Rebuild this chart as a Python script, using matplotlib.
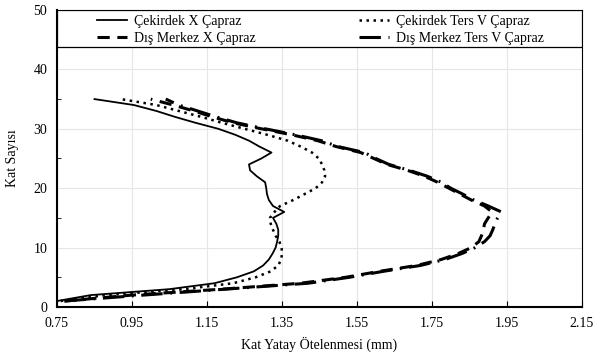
import numpy as np
import matplotlib
matplotlib.use("Agg")
import matplotlib.pyplot as plt
from matplotlib.patches import Rectangle

plt.rcParams["font.family"] = ["Liberation Serif", "DejaVu Serif"]

# kat numaraları
kat = list(range(1, 36))

# Çekirdek X Çapraz
cek_x = [0.75, 0.84, 1.05, 1.17, 1.23, 1.275, 1.30, 1.315, 1.325, 1.333,
         1.337, 1.34, 1.34, 1.335, 1.326, 1.356, 1.326, 1.315, 1.31, 1.308,
         1.305, 1.283, 1.265, 1.262, 1.295, 1.322, 1.29, 1.262, 1.225, 1.18,
         1.12, 1.065, 1.015, 0.955, 0.85]

# Çekirdek Ters V Çapraz
cek_v = [0.76, 0.88, 1.09, 1.22, 1.28, 1.32, 1.34, 1.348, 1.35, 1.349,
         1.343, 1.333, 1.326, 1.32, 1.318, 1.33, 1.345, 1.38, 1.41, 1.44,
         1.457, 1.465, 1.463, 1.457, 1.448, 1.43, 1.40, 1.365, 1.31, 1.25,
         1.19, 1.135, 1.075, 1.015, 0.92]

# Dış Merkez X Çapraz
dis_x = [0.77, 0.95, 1.19, 1.40, 1.52, 1.61, 1.71, 1.775, 1.82, 1.855,
         1.875, 1.882, 1.887, 1.89, 1.90, 1.91, 1.89, 1.855, 1.825, 1.795,
         1.765, 1.73, 1.685, 1.63, 1.595, 1.56, 1.495, 1.445, 1.375, 1.295,
         1.22, 1.165, 1.115, 1.06, 1.00]

# Dış Merkez Ters V Çapraz
dis_v = [0.77, 0.98, 1.20, 1.42, 1.53, 1.62, 1.72, 1.785, 1.83, 1.865,
         1.89, 1.905, 1.912, 1.918, 1.925, 1.935, 1.90, 1.862, 1.832, 1.80,
         1.775, 1.738, 1.69, 1.635, 1.60, 1.57, 1.50, 1.455, 1.385, 1.305,
         1.23, 1.175, 1.125, 1.075, 1.04]

fig = plt.figure(figsize=(5.96, 3.62), dpi=100)
ax = fig.add_axes([0.0956, 0.152, 0.8809, 0.8204])

ax.plot(cek_x, kat, color="black", lw=1.3, label="Çekirdek X Çapraz")
ax.plot(dis_x, kat, color="black", lw=2.2, linestyle=(0, (4, 2.5)),
        label="Dış Merkez X Çapraz")
ax.plot(cek_v, kat, color="black", lw=1.8, linestyle=(0, (1, 1.8)),
        label="Çekirdek Ters V Çapraz")
ax.plot(dis_v, kat, color="black", lw=2.2, linestyle=(0, (7, 2.5, 0.6, 2.5)),
        label="Dış Merkez Ters V Çapraz")

ax.set_xlim(0.75, 2.15)
ax.set_ylim(0, 50)
ax.set_xticks(np.arange(0.75, 2.151, 0.2))
ax.set_xticklabels(["0.75", "0.95", "1.15", "1.35", "1.55", "1.75", "1.95", "2.15"])
ax.set_yticks(range(0, 51, 10))
ax.set_yticks(range(5, 50, 10), minor=True)
ax.tick_params(axis="both", which="both", direction="in", labelsize=10)
ax.tick_params(axis="x", length=4, pad=7)
ax.tick_params(axis="y", which="major", length=0, pad=7)
ax.tick_params(axis="y", which="minor", length=3)
ax.grid(True, color="#e6e6e6", lw=0.8)
ax.set_axisbelow(True)

for s in ["left", "bottom"]:
    ax.spines[s].set_linewidth(1.5)
for s in ["right", "top"]:
    ax.spines[s].set_linewidth(0.8)

ax.set_xlabel("Kat Yatay Ötelenmesi (mm)", fontsize=10, labelpad=5)
ax.set_ylabel("Kat Sayısı", fontsize=10, labelpad=10)

# lejant kutusu
box = Rectangle((0, 0.876), 1, 0.124, transform=ax.transAxes, facecolor="white",
                edgecolor="black", lw=0.9, zorder=4)
ax.add_patch(box)
leg = ax.legend(loc="center", bbox_to_anchor=(0.502, 0.933), ncol=2, frameon=False,
                fontsize=10, handlelength=2.15, columnspacing=7.4, labelspacing=0.3,
                handletextpad=0.5)
leg.set_zorder(5)

plt.savefig("out.png", dpi=100)
